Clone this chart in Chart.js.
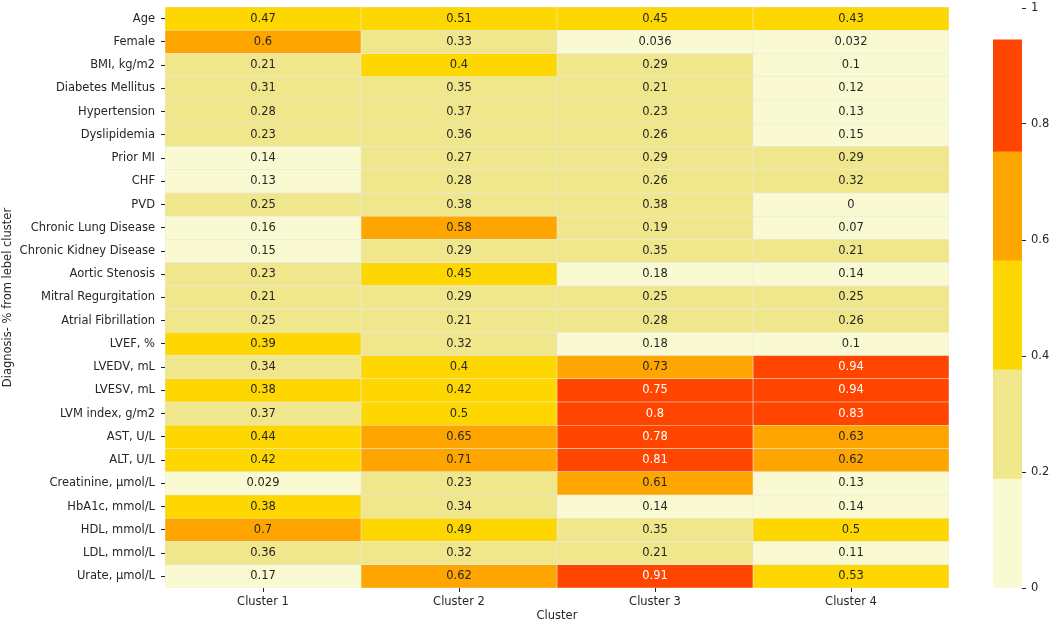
<!DOCTYPE html>
<html>
<head>
<meta charset="utf-8">
<script src="https://cdn.jsdelivr.net/npm/chart.js@4"></script>
<style>
	html, body { margin: 0; padding: 0; background: #ffffff; }
	#wrap { position: relative; width: 1056px; height: 626px; }
	#heatmap { position: absolute; left: 0; top: 0; }
	#colorbar { position: absolute; left: 960px; top: 0; }
</style>
</head>
<body>
<div id="wrap">
	<canvas id="heatmap" width="1056" height="626"></canvas>
	<canvas id="colorbar" width="96" height="626"></canvas>
</div>
<script>
const rows = [
	"Age", "Female", "BMI, kg/m2", "Diabetes Mellitus", "Hypertension", "Dyslipidemia",
	"Prior MI", "CHF", "PVD", "Chronic Lung Disease", "Chronic Kidney Disease",
	"Aortic Stenosis", "Mitral Regurgitation", "Atrial Fibrillation", "LVEF, %",
	"LVEDV, mL", "LVESV, mL", "LVM index, g/m2", "AST, U/L", "ALT, U/L",
	"Creatinine, µmol/L", "HbA1c, mmol/L", "HDL, mmol/L", "LDL, mmol/L", "Urate, µmol/L"
];

const clusters = [ "Cluster 1", "Cluster 2", "Cluster 3", "Cluster 4" ];

const cluster1 = [ 0.47, 0.6, 0.21, 0.31, 0.28, 0.23, 0.14, 0.13, 0.25, 0.16, 0.15, 0.23, 0.21, 0.25, 0.39, 0.34, 0.38, 0.37, 0.44, 0.42, 0.029, 0.38, 0.7, 0.36, 0.17 ];
const cluster2 = [ 0.51, 0.33, 0.4, 0.35, 0.37, 0.36, 0.27, 0.28, 0.3755, 0.58, 0.29, 0.45, 0.29, 0.21, 0.32, 0.4, 0.42, 0.5, 0.65, 0.71, 0.23, 0.34, 0.49, 0.32, 0.62 ];
const cluster3 = [ 0.45, 0.036, 0.29, 0.21, 0.23, 0.26, 0.29, 0.26, 0.3755, 0.19, 0.35, 0.18, 0.25, 0.28, 0.18, 0.73, 0.753, 0.8, 0.78, 0.81, 0.61, 0.14, 0.35, 0.21, 0.91 ];
const cluster4 = [ 0.43, 0.032, 0.1, 0.12, 0.13, 0.15, 0.29, 0.32, 0, 0.07, 0.21, 0.14, 0.25, 0.26, 0.1, 0.94, 0.94, 0.83, 0.63, 0.62, 0.13, 0.14, 0.5, 0.11, 0.53 ];

const clusterValues = [ cluster1, cluster2, cluster3, cluster4 ];

// discrete colour bins (vmin 0, vmax ~0.94, 5 colours)
const binEdges = [ 0, 0.188, 0.376, 0.564, 0.752, 0.945 ];
const binColors = [ "#FAFAD2", "#F0E68C", "#FFD700", "#FFA500", "#FF4500" ];
const binTextColors = [ "#262626", "#262626", "#262626", "#262626", "#ffffff" ];

const colorbarTicks = [ 0, 0.2, 0.4, 0.6, 0.8, 1 ];

const fontFamily = "'DejaVu Sans', sans-serif";
const fontSize = 11.5;
const textColor = "#262626";

function binIndex(value)
{
	for(let i = binEdges.length - 2; i >= 0; i--)
	{
		if(value >= binEdges[i])
		{
			return i;
		}
	}

	return 0;
}

function formatValue(value)
{
	// like matplotlib ".2g"
	return String(Number(value.toPrecision(2)));
}

const cellLabelsPlugin =
{
	id: "cellLabels",
	afterDatasetsDraw(chart)
	{
		const ctx = chart.ctx;

		ctx.save();
		ctx.font = `${fontSize}px ${fontFamily}`;
		ctx.textAlign = "center";
		ctx.textBaseline = "middle";

		chart.data.datasets.forEach((dataset, datasetIndex) =>
		{
			const meta = chart.getDatasetMeta(datasetIndex);

			meta.data.forEach((element, index) =>
			{
				const value = clusterValues[datasetIndex][index];
				const center = element.getCenterPoint();

				ctx.fillStyle = binTextColors[binIndex(value)];
				ctx.fillText(formatValue(value), center.x, center.y);
			});
		});

		ctx.restore();
	}
};

Chart.defaults.font.family = fontFamily;
Chart.defaults.font.size = fontSize;
Chart.defaults.color = textColor;

new Chart(document.getElementById("heatmap"),
{
	type: "bar",
	data:
	{
		labels: rows,
		datasets: clusterValues.map((values, c) => (
		{
			label: clusters[c],
			data: values.map(() => [ c, c + 1 ]),
			backgroundColor: values.map(v => binColors[binIndex(v)]),
			borderColor: "rgba(232, 232, 226, 1)",
			borderWidth: 0.6,
			borderSkipped: false,
			grouped: false,
			barPercentage: 1,
			categoryPercentage: 1
		}))
	},
	options:
	{
		indexAxis: "y",
		responsive: false,
		animation: false,
		layout: { padding: { left: 0, right: 107, top: 7, bottom: 0 } },
		plugins:
		{
			legend: { display: false },
			tooltip: { enabled: false }
		},
		scales:
		{
			x:
			{
				type: "linear",
				min: 0,
				max: 4,
				border: { display: false },
				grid: { drawOnChartArea: false, drawTicks: true, tickLength: 4, color: textColor },
				afterBuildTicks: scale =>
				{
					scale.ticks = clusters.map((name, i) => ({ value: i + 0.5 }));
				},
				afterFit: scale =>
				{
					scale.height = 38;
					scale.paddingLeft = 0;
					scale.paddingRight = 0;
				},
				ticks:
				{
					padding: 3,
					color: textColor,
					autoSkip: false,
					maxRotation: 0,
					callback: value => clusters[Math.floor(value)]
				},
				title: { display: true, text: "Cluster", color: textColor, padding: { top: 0, bottom: 3 } }
			},
			y:
			{
				type: "category",
				offset: true,
				border: { display: false },
				grid: { offset: false, drawOnChartArea: false, drawTicks: true, tickLength: 4, color: textColor },
				afterFit: scale =>
				{
					scale.width = 165;
					scale.paddingTop = 0;
					scale.paddingBottom = 0;
				},
				ticks: { padding: 6, color: textColor, autoSkip: false },
				title: { display: true, text: "Diagnosis- % from lebel cluster", color: textColor, padding: { top: 1, bottom: 0 } }
			}
		}
	},
	plugins: [ cellLabelsPlugin ]
});

new Chart(document.getElementById("colorbar"),
{
	type: "bar",
	data:
	{
		labels: [ "" ],
		datasets: binColors.map((color, i) => (
		{
			data: [ [ binEdges[i], binEdges[i + 1] ] ],
			backgroundColor: color,
			borderWidth: 0,
			grouped: false,
			barPercentage: 1,
			categoryPercentage: 1
		}))
	},
	options:
	{
		responsive: false,
		animation: false,
		layout: { padding: { left: 33, right: 0, top: 8, bottom: 38 } },
		plugins:
		{
			legend: { display: false },
			tooltip: { enabled: false }
		},
		scales:
		{
			x: { display: false },
			y:
			{
				type: "linear",
				position: "right",
				min: 0,
				max: 1,
				border: { display: false },
				grid: { drawOnChartArea: false, drawTicks: true, tickLength: 4, color: textColor },
				afterBuildTicks: scale =>
				{
					scale.ticks = colorbarTicks.map(value => ({ value }));
				},
				afterFit: scale =>
				{
					scale.width = 34;
					scale.paddingTop = 0;
					scale.paddingBottom = 0;
				},
				ticks: { padding: 5, color: textColor, callback: value => String(value) }
			}
		}
	}
});
</script>
</body>
</html>
